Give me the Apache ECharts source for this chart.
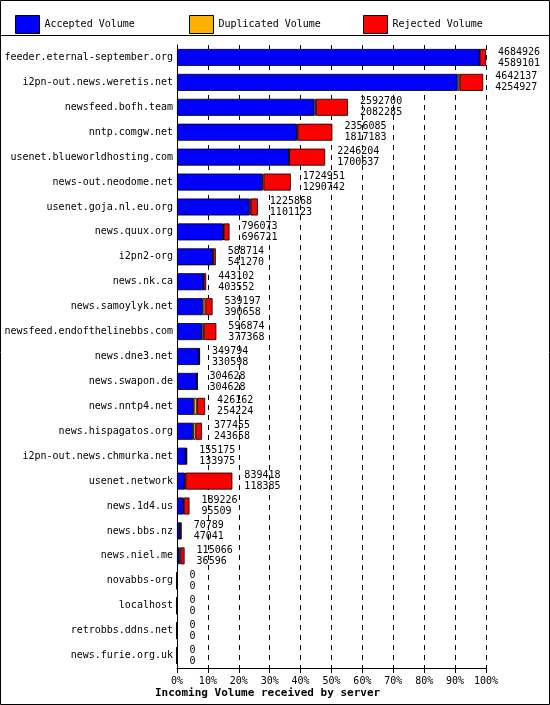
<!DOCTYPE html>
<html>
<head>
<meta charset="utf-8">
<script src="https://cdn.jsdelivr.net/npm/echarts@6/dist/echarts.min.js"></script>
<style>html,body{margin:0;padding:0;background:#fff}#chart{width:550px;height:705px}</style>
</head>
<body>
<div id="chart"></div>
<script>
const servers = ['feeder.eternal-september.org', 'i2pn-out.news.weretis.net', 'newsfeed.bofh.team', 'nntp.comgw.net',
    'usenet.blueworldhosting.com', 'news-out.neodome.net', 'usenet.goja.nl.eu.org', 'news.quux.org', 'i2pn2-org',
    'news.nk.ca', 'news.samoylyk.net', 'newsfeed.endofthelinebbs.com', 'news.dne3.net', 'news.swapon.de',
    'news.nntp4.net', 'news.hispagatos.org', 'i2pn-out.news.chmurka.net', 'usenet.network', 'news.1d4.us',
    'news.bbs.nz', 'news.niel.me', 'novabbs-org', 'localhost', 'retrobbs.ddns.net', 'news.furie.org.uk'];
const totals = [4684926, 4642137, 2592700, 2356085, 2246204, 1724951, 1225868, 796073, 588714, 443102, 539197,
    596874, 349794, 304628, 426162, 377455, 155175, 839418, 189226, 70789, 115066, 0, 0, 0, 0];
const accepted = [4589101, 4254927, 2082285, 1817183, 1700637, 1290742, 1101123, 696721, 541270, 403552, 390658,
    377368, 330598, 304628, 254224, 243658, 133975, 118385, 95509, 47041, 36596, 0, 0, 0, 0];
const duplicated = [0, 30000, 25000, 10000, 0, 20000, 15000, 15000, 5000, 3000, 40000,
    30000, 2000, 0, 50000, 40000, 3000, 10000, 10000, 3000, 15000, 0, 0, 0, 0];
const rejected = totals.map((t, i) => t - accepted[i] - duplicated[i]);
const pctTicks = ['0%', '10%', '20%', '30%', '40%', '50%', '60%', '70%', '80%', '90%', '100%'];

const maxTotal = totals[0];
const font = 'DejaVu Sans Mono';
const chart = echarts.init(document.getElementById('chart'));

function barSeries(name, data, color) {
    return {
        name: name, type: 'bar', stack: 'vol', data: data, barWidth: 17,
        itemStyle: {color: color, borderColor: '#000', borderWidth: 0.8},
        emphasis: {disabled: true}
    };
}

const rejSeries = barSeries('Rejected Volume', rejected, '#ff0000');
rejSeries.label = {
    show: true, position: 'right', distance: 12, color: '#000', fontFamily: font, fontSize: 10, lineHeight: 11,
    formatter: p => totals[p.dataIndex] + '\n' + accepted[p.dataIndex]
};

const legendStyle = {textStyle: {fontFamily: font, fontSize: 10, color: '#000'}, itemWidth: 24, itemHeight: 18,
    itemStyle: {borderColor: '#000', borderWidth: 1}, icon: 'rect', top: 10};

chart.setOption({
    backgroundColor: '#fff',
    animation: false,
    textStyle: {fontFamily: font},
    legend: [
        Object.assign({left: 10, data: ['Accepted Volume']}, legendStyle),
        Object.assign({left: 184, data: ['Duplicated Volume']}, legendStyle),
        Object.assign({left: 358, data: ['Rejected Volume']}, legendStyle)
    ],
    grid: {left: 177, right: 64, top: 45, bottom: 37},
    xAxis: {
        type: 'value', min: 0, max: maxTotal, interval: maxTotal / 10,
        name: 'Incoming Volume received by server', nameLocation: 'start', nameGap: 0,
        nameTextStyle: {fontFamily: font, fontSize: 11, fontWeight: 'bold', color: '#000',
            align: 'left', verticalAlign: 'top', padding: [20, 0, 0, -22]},
        axisLine: {show: true, lineStyle: {color: '#000'}},
        axisTick: {show: true, lineStyle: {color: '#000'}},
        axisLabel: {color: '#000', fontSize: 10, fontFamily: font,
            formatter: v => pctTicks[Math.round(v / maxTotal * 10)]},
        splitLine: {show: true, lineStyle: {color: '#000', type: [5, 5]}}
    },
    yAxis: {
        type: 'category', data: servers, inverse: true,
        axisLine: {show: true, lineStyle: {color: '#000'}},
        axisTick: {show: false},
        axisLabel: {color: '#000', fontSize: 10, fontFamily: font, margin: 4}
    },
    series: [
        barSeries('Accepted Volume', accepted, '#0000ff'),
        barSeries('Duplicated Volume', duplicated, '#ffb000'),
        rejSeries
    ],
    graphic: [
        {type: 'rect', shape: {x: 0.5, y: 0.5, width: 549, height: 704}, style: {fill: 'none', stroke: '#000'}},
        {type: 'line', shape: {x1: 0, y1: 35.5, x2: 550, y2: 35.5}, style: {stroke: '#000'}}
    ]
});
</script>
</body>
</html>
